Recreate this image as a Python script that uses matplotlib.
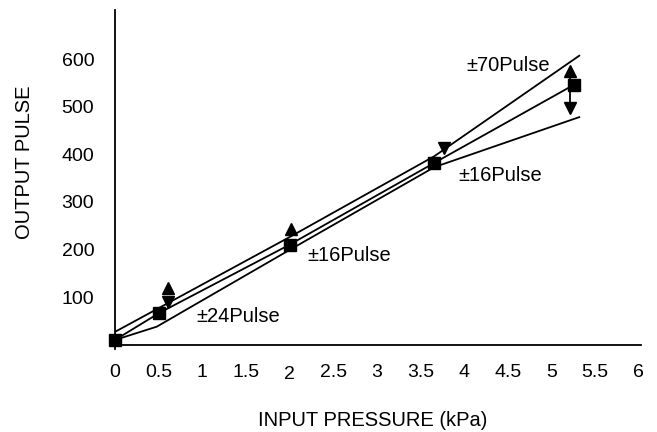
import matplotlib
matplotlib.use("Agg")
import matplotlib.pyplot as plt
import matplotlib.transforms as mtransforms

plt.rcParams['font.family'] = ['Liberation Sans', 'DejaVu Sans']

# measured points (square markers)
pressure = [0, 0.51, 2.0, 3.66, 5.26]
pulse = [10, 67, 210, 382, 546]

# envelope lines
upper_x = [0, 2.0, 3.66, 5.32]
upper_y = [27, 226, 396, 607]
lower_x = [0, 0.48, 2.0, 3.66, 5.32]
lower_y = [10, 38, 199, 373, 478]

# error arrows
up_x = [0.61, 2.02, 5.21]
up_y = [120, 244, 575]
down_x = [0.61, 3.77, 5.21]
down_y = [90, 414, 497]

# annotations
notes = ['\u00b170Pulse', '\u00b116Pulse', '\u00b116Pulse', '\u00b124Pulse']
note_x = [4.50, 4.41, 2.69, 1.41]
note_y = [587, 355, 187, 59]

xticks = [0, 0.5, 1, 1.5, 2, 2.5, 3, 3.5, 4, 4.5, 5, 5.5, 6]
xticklabels = ['0', '0.5', '1', '1.5', '2', '2.5', '3', '3.5', '4', '4.5', '5', '5.5', '6']
yticks = [100, 200, 300, 400, 500, 600]

fig = plt.figure(figsize=(6.57, 4.32), dpi=100)
ax = fig.add_axes([0.175, 0.191, 0.801, 0.787])

lw = 1.3
ax.plot(upper_x, upper_y, color='black', lw=lw)
ax.plot(pressure, pulse, color='black', lw=lw)
ax.plot(lower_x, lower_y, color='black', lw=lw)
ax.plot([up_x[2], down_x[2]], [up_y[2] - 5, down_y[2] + 5], color='black', lw=lw)
ax.plot(pressure, pulse, 's', color='black', markersize=8.5, clip_on=False)
ax.plot(up_x, up_y, '^', color='black', markersize=9)
ax.plot(down_x, down_y, 'v', color='black', markersize=9)

for t, x, y in zip(notes, note_x, note_y):
    ax.text(x, y, t, fontsize=14.5, ha='center', va='center')

ax.set_xlim(0, 6.03)
ax.set_ylim(-10, 704)
ax.spines['top'].set_visible(False)
ax.spines['right'].set_visible(False)
ax.spines['bottom'].set_position(('data', 0))
ax.spines['left'].set_linewidth(1.3)
ax.spines['bottom'].set_linewidth(1.3)

ax.set_xticks(xticks)
ax.set_xticklabels(xticklabels)
ax.set_yticks(yticks)
ax.tick_params(axis='both', length=0, labelsize=14)
ax.tick_params(axis='x', pad=14)
ax.tick_params(axis='y', pad=15)

# the "2" label sits a little lower in the original
lab = ax.get_xticklabels()[4]
lab.set_transform(lab.get_transform() +
                  mtransforms.ScaledTranslation(0, -1.5 / 72, fig.dpi_scale_trans))

fig.text(25 / 657, 1 - 162 / 432, 'OUTPUT PULSE', rotation=90,
         ha='center', va='center', fontsize=14.5)
fig.text(373 / 657, 1 - 420 / 432, 'INPUT PRESSURE (kPa)',
         ha='center', va='center', fontsize=14.5)

fig.savefig('out.png', dpi=100)
